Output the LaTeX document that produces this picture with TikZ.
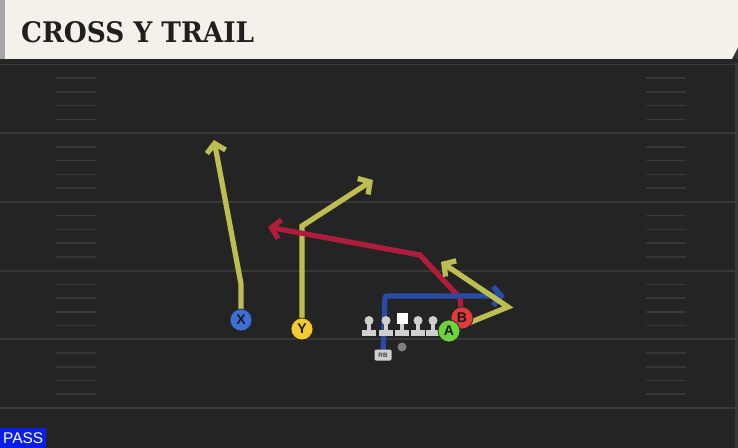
\documentclass[tikz,border=0pt]{standalone}
\usepackage{fontspec}
\setmainfont{Liberation Sans}
\newfontfamily\titlefont{DejaVu Serif}
\usetikzlibrary{arrows.meta}
\definecolor{fieldgray}{HTML}{242424}
\definecolor{fieldline}{HTML}{383838}
\definecolor{headercream}{HTML}{F4F1EA}
\definecolor{routeyellow}{HTML}{BDBD52}
\definecolor{routered}{HTML}{B01C3C}
\definecolor{routeblue}{HTML}{2A4BA6}
\definecolor{xblue}{HTML}{3D6FD8}
\definecolor{yyellow}{HTML}{F2CC2E}
\definecolor{bred}{HTML}{E5393F}
\definecolor{agreen}{HTML}{6CD33A}
\definecolor{passblue}{HTML}{0A1FE6}
\definecolor{olgray}{HTML}{CFCFCF}
\pgfdeclarelayer{field}
\pgfdeclarelayer{routes}
\pgfsetlayers{field,routes,main}
\tikzset{
  player/.style={circle, draw=black!85, line width=1pt, minimum size=1.1cm, inner sep=0pt,
    font=\fontsize{20}{20}\selectfont\bfseries, text=black!90},
  route/.style={line width=7.5pt, -{Straight Barb[length=12pt,width=27pt]}},
  lineman/.style={fill=olgray},
  hash/.style={draw=fieldline, line width=2.2pt},
  yardline/.style={draw=fieldline, line width=2.8pt}
}
\begin{document}
\begin{tikzpicture}[x=0.05cm,y=-0.05cm]
\useasboundingbox (0,0) rectangle (738,448);
\begin{pgfonlayer}{field}
\fill [fieldgray] (0,0) rectangle (738,448);
\fill [fieldline] (735,40) rectangle (738,448);
\foreach \i in {0,...,5}
  \draw [yardline] (0,64.5+68.7*\i) -- (738,64.5+68.7*\i);
\foreach \i in {0,...,4}
  \foreach \k in {1,...,4} {
    \draw [hash] (56,64.5+68.7*\i+13.74*\k) -- (96,64.5+68.7*\i+13.74*\k);
    \draw [hash] (646,64.5+68.7*\i+13.74*\k) -- (686,64.5+68.7*\i+13.74*\k);
  }
\fill [black!85] (0,59) rectangle (738,63);
\fill [black!35] (0,0) rectangle (5,59);
\fill [headercream] (5,0) -- (738,0) -- (738,47) -- (732,59) -- (5,59) -- cycle;
\end{pgfonlayer}
\node [anchor=base west, inner sep=0pt, text=black!88] (title) at (21,43)
  {\resizebox{11.65cm}{1.05cm}{\titlefont\bfseries CROSS Y TRAIL}};
\node [fill=passblue, text=white, anchor=south west, minimum width=2.3cm, minimum height=1cm,
  inner sep=0pt, font=\fontsize{22}{22}\selectfont] (pass) at (0,448) {PASS};
\foreach \x [count=\n] in {369,386,418,433} {
  \fill [lineman] (\x-7,330) rectangle (\x+7,336);
  \fill [lineman] (\x-2.2,321) rectangle (\x+2.2,331);
  \fill [lineman] (\x,320.5) circle (4.5);
}
\fill [lineman] (395,330) rectangle (409,336);
\fill [lineman] (399.8,321) rectangle (404.2,331);
\fill [white] (396.5,313) rectangle (407.5,324);
\fill [black!50] (402,347) circle (4.5);
\node [fill=olgray, rounded corners=2pt, minimum width=0.85cm, minimum height=0.55cm, inner sep=0pt,
  font=\fontsize{9}{9}\selectfont\bfseries, text=black!75] (rb) at (383,355) {RB};
\node [player, fill=xblue] (X) at (241,320) {X};
\node [player, fill=yyellow] (Y) at (302,329) {Y};
\node [player, fill=bred] (B) at (462,318) {B};
\node [player, fill=agreen] (A) at (449,331) {A};
\coordinate (xbreak) at (241,284);
\coordinate (xend) at (214,140);
\coordinate (ybreak) at (302,226);
\coordinate (yend) at (373,180);
\coordinate (bbreak) at (460,298);
\coordinate (bbend) at (420,255);
\coordinate (bend) at (268,227);
\coordinate (rbbreak) at (385,296);
\coordinate (rbend) at (505,296);
\coordinate (abreak) at (508,307);
\coordinate (aend) at (441,262);
\begin{pgfonlayer}{routes}
\draw [route, routeyellow] (X.center) -- (xbreak) -- (xend);
\draw [route, routeyellow] (Y.center) -- (ybreak) -- (yend);
\draw [route, routered] (B.center) -- (bbreak) -- (bbend) -- (bend);
\draw [route, routeblue, rounded corners=3] (rb.center) -- (rbbreak) -- (rbend);
\draw [route, routeyellow] (A.center) -- (abreak) -- (aend);
\end{pgfonlayer}
\end{tikzpicture}
\end{document}
